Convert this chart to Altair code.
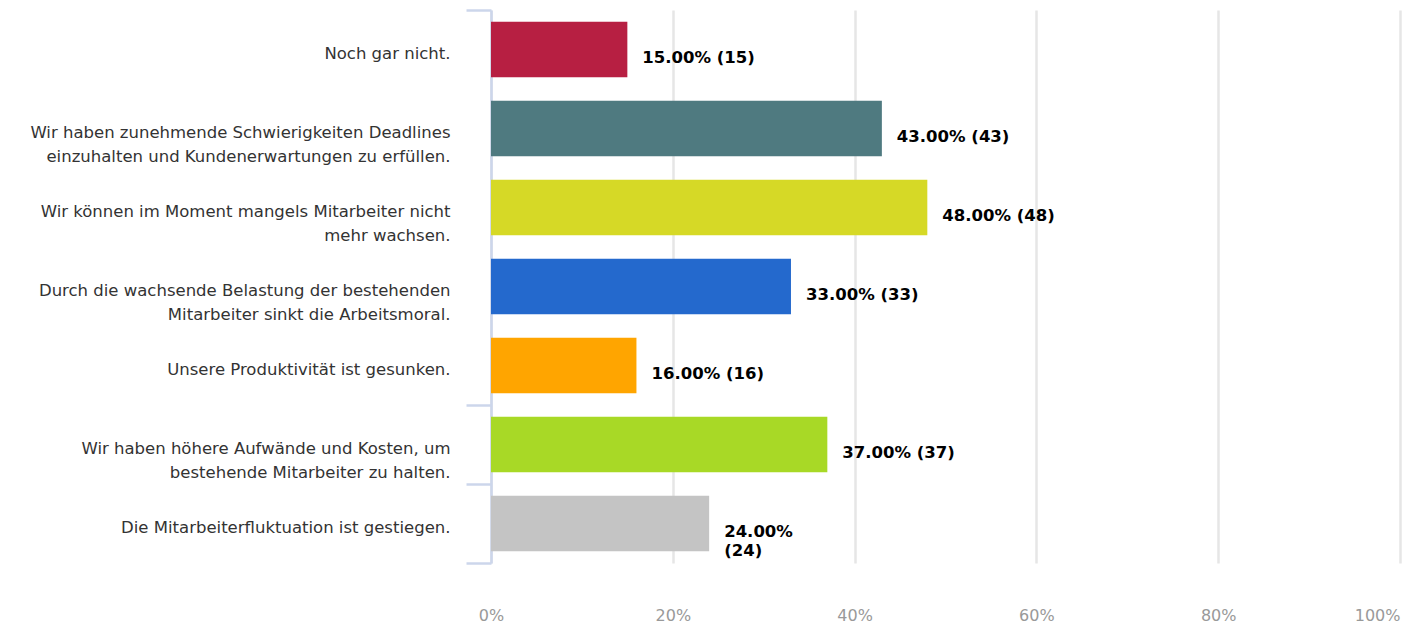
import altair as alt
import pandas as pd

categories = [
    "Noch gar nicht.",
    "Wir haben zunehmende Schwierigkeiten Deadlines\neinzuhalten und Kundenerwartungen zu erfüllen.",
    "Wir können im Moment mangels Mitarbeiter nicht\nmehr wachsen.",
    "Durch die wachsende Belastung der bestehenden\nMitarbeiter sinkt die Arbeitsmoral.",
    "Unsere Produktivität ist gesunken.",
    "Wir haben höhere Aufwände und Kosten, um\nbestehende Mitarbeiter zu halten.",
    "Die Mitarbeiterfluktuation ist gestiegen.",
]
percents = [15, 43, 48, 33, 16, 37, 24]
counts = [15, 43, 48, 33, 16, 37, 24]
value_labels = [
    "15.00% (15)",
    "43.00% (43)",
    "48.00% (48)",
    "33.00% (33)",
    "16.00% (16)",
    "37.00% (37)",
    "24.00%\n(24)",
]
colors = ["#B71F42", "#4F7A80", "#D6D926", "#2469CD", "#FFA500", "#A8D926", "#C4C4C4"]
x_ticks = [0, 20, 40, 60, 80, 100]

df = pd.DataFrame({"cat": categories, "pct": percents, "n": counts, "label": value_labels})

y_enc = alt.Y(
    "cat:N",
    sort=categories,
    scale=alt.Scale(paddingInner=0, paddingOuter=0),
    axis=alt.Axis(
        title=None,
        labelExpr="split(datum.label, '\\n')",
        labelFont="DejaVu Sans",
        labelFontSize=16.5,
        labelColor="#333333",
        labelLimit=0,
        labelLineHeight=24,
        labelPadding=16,
        labelOffset=4,
        domainColor="#CCD6EB",
        domainWidth=2.5,
        tickColor="#CCD6EB",
        tickWidth=2.5,
        tickSize=25,
        tickBand="extent",
        tickOpacity=alt.condition(
            "datum.index < 0 || test(regexp('Produktivit|höhere|fluktuation'), '' + datum.value)",
            alt.value(1),
            alt.value(0),
        ),
        grid=False,
    ),
)

x_enc = alt.X(
    "pct:Q",
    scale=alt.Scale(domain=[0, 100], nice=False),
    axis=alt.Axis(
        title=None,
        values=x_ticks,
        labelExpr="datum.value + '%'",
        labelFont="DejaVu Sans",
        labelFontSize=16,
        labelColor="#999999",
        labelPadding=44,
        labelAlign=alt.condition("datum.value == 100", alt.value("right"), alt.value("center")),
        domain=False,
        ticks=False,
        grid=True,
        gridColor="#E6E6E6",
        gridWidth=2.5,
    ),
)

bars = alt.Chart(df).mark_bar(height=alt.RelativeBandSize(0.7)).encode(
    x=x_enc,
    y=y_enc,
    color=alt.Color("cat:N", scale=alt.Scale(domain=categories, range=colors), legend=None),
)

texts = alt.Chart(df).mark_text(
    align="left",
    baseline="top",
    dx=15,
    dy=0,
    font="DejaVu Sans",
    fontSize=16.5,
    fontWeight="bold",
    color="#000000",
    lineBreak="\n",
    lineHeight=19,
).encode(
    x="pct:Q",
    y=alt.Y("cat:N", sort=categories),
    text="label:N",
)

chart = (
    alt.layer(bars, texts)
    .properties(
        width=909,
        height=553,
        autosize=alt.AutoSizeParams(type="none"),
        padding={"left": 483, "top": 2, "right": 3, "bottom": 66},
    )
    .configure_view(stroke=None)
)

chart.save("out.html", embed_options={"renderer": "svg", "actions": False})
